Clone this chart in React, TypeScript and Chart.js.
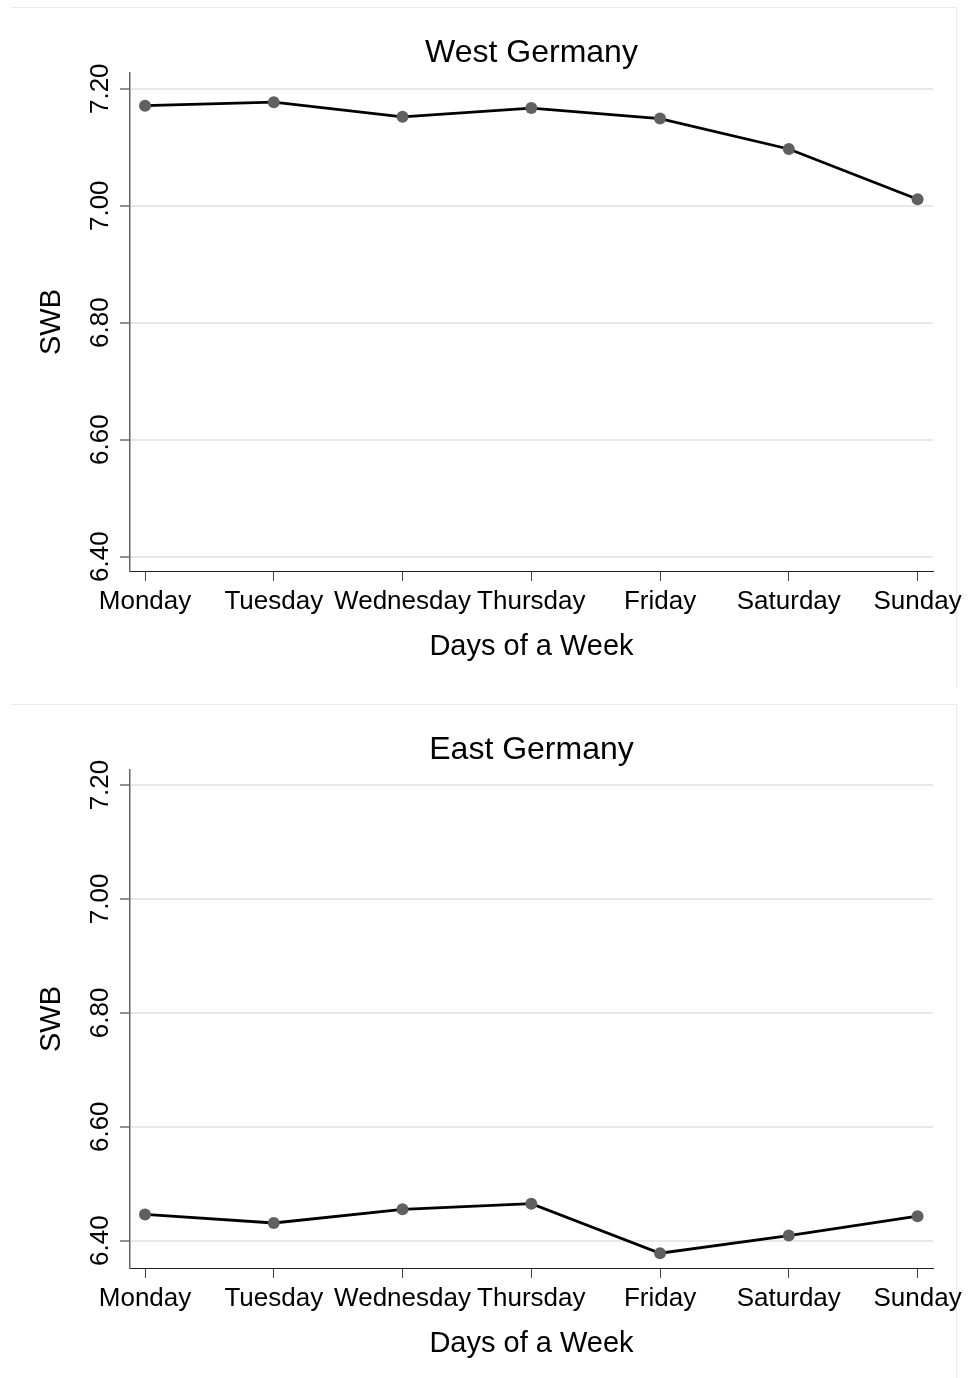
import React, { useEffect, useRef } from "react";
import { Chart, registerables } from "chart.js";

Chart.register(...registerables);

const days = ["Monday", "Tuesday", "Wednesday", "Thursday", "Friday", "Saturday", "Sunday"];
const westValues = [7.171, 7.177, 7.152, 7.167, 7.149, 7.097, 7.011];
const eastValues = [6.446, 6.431, 6.455, 6.465, 6.378, 6.409, 6.443];
const westRange = [6.3755, 7.2269];
const eastRange = [6.352, 7.2264];
const yTickStep = 0.2;
const xRange = [-0.1166, 6.12];

const FONT = "'Liberation Sans', Arial, Helvetica, sans-serif";
const W = 969;
const H = 681;

function Panel(props: { title: string; values: number[]; range: number[]; top: number; bottomBorder: number }) {
  const ref = useRef<HTMLCanvasElement>(null);
  useEffect(() => {
    if (!ref.current) return;
    const chart = new Chart(ref.current, {
      type: "line",
      data: {
        datasets: [
          {
            data: props.values.map((v, i) => ({ x: i, y: v })),
            borderColor: "#000",
            borderWidth: 2.8,
            pointRadius: 6,
            pointBackgroundColor: "#606060",
            pointBorderWidth: 0,
            pointHoverRadius: 6,
            tension: 0,
            fill: false,
          },
        ],
      },
      options: {
        animation: false,
        responsive: false,
        events: [],
        layout: { padding: { left: 0, right: 36, top: 0, bottom: 10 } },
        plugins: {
          legend: { display: false },
          tooltip: { enabled: false },
          title: {
            display: true,
            text: props.title,
            fullSize: false,
            color: "#000",
            font: { family: FONT, size: 32, weight: "normal", lineHeight: 1.2 },
            padding: { top: 33.6, bottom: 1 },
          },
        },
        scales: {
          x: {
            type: "linear",
            min: xRange[0],
            max: xRange[1],
            afterFit: (s: any) => {
              s.height = 100;
              s.paddingLeft = 0;
              s.paddingRight = 0;
            },
            ticks: {
              stepSize: 1,
              includeBounds: false,
              autoSkip: false,
              maxRotation: 0,
              minRotation: 0,
              padding: 5,
              color: "#000",
              font: { family: FONT, size: 26 },
              callback: (v: any) => (Number.isInteger(v) ? days[v] : ""),
            },
            grid: {
              drawOnChartArea: false,
              drawTicks: true,
              tickLength: 10,
              tickColor: "#444",
              tickWidth: 1,
            },
            border: { display: true, color: "#222", width: 1 },
            title: {
              display: true,
              text: "Days of a Week",
              color: "#000",
              font: { family: FONT, size: 29, lineHeight: 1.2 },
              padding: { top: 0, bottom: 6.8 },
            },
          },
          y: {
            type: "linear",
            min: props.range[0],
            max: props.range[1],
            afterFit: (s: any) => {
              s.width = 130;
              s.paddingTop = 0;
              s.paddingBottom = 0;
            },
            ticks: {
              stepSize: yTickStep,
              includeBounds: false,
              minRotation: 90,
              maxRotation: 90,
              crossAlign: "center",
              padding: -6.5,
              color: "#000",
              font: { family: FONT, size: 26 },
              callback: (v: any) => Number(v).toFixed(2),
            },
            grid: {
              color: "#e8e8e8",
              lineWidth: 2,
              drawTicks: true,
              tickLength: 10,
              tickColor: "#222",
              tickWidth: 1,
            },
            border: { display: true, color: "#666", width: 1.5 },
            title: {
              display: true,
              text: "SWB",
              color: "#000",
              font: { family: FONT, size: 29, lineHeight: 1.2 },
              padding: { top: 35, bottom: 0 },
            },
          },
        },
      } as any,
    });
    return () => chart.destroy();
  }, []);
  return (
    <div style={{ position: "absolute", left: 0, top: props.top, width: W, height: H }}>
      <div style={{ position: "absolute", left: 11, top: 7, width: 946, height: 0, borderTop: "1.5px solid #ebebeb" }} />
      <div style={{ position: "absolute", left: 956, top: 7, width: 0, height: props.bottomBorder, borderLeft: "1.5px solid #ebebeb" }} />
      <canvas ref={ref} width={W} height={H} style={{ position: "absolute", left: 0, top: 0, width: W, height: H }} />
    </div>
  );
}

export default function App() {
  return (
    <div style={{ position: "absolute", left: 0, top: 0, width: W, height: 1378, overflow: "hidden", background: "#fff" }}>
      <Panel title="West Germany" values={westValues} range={westRange} top={0} bottomBorder={681} />
      <Panel title="East Germany" values={eastValues} range={eastRange} top={697} bottomBorder={681} />
    </div>
  );
}
